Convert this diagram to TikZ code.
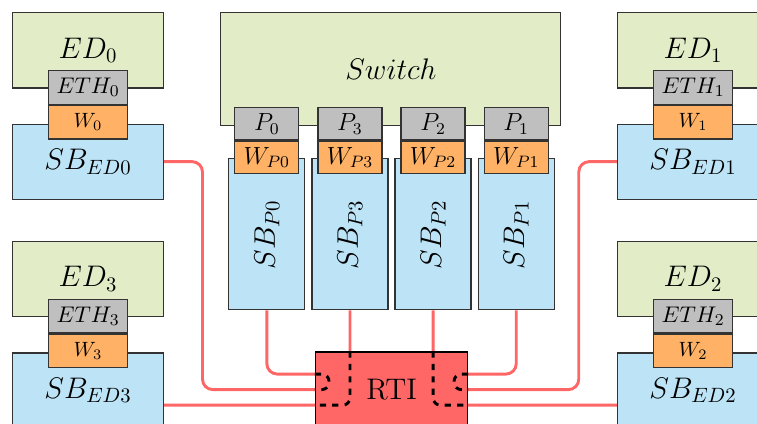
\documentclass[tikz,border=0pt]{standalone}
\usetikzlibrary{positioning, calc, backgrounds}
\definecolor{edGreen}{HTML}{E2EDC8}
\definecolor{sbBlue}{HTML}{BCE4F6}
\definecolor{portGrey}{HTML}{BFBFBF}
\definecolor{wrapOrange}{HTML}{FFB266}
\definecolor{rtiRed}{HTML}{FF6666}
\definecolor{boxBorder}{HTML}{333333}

\begin{document}
\begin{tikzpicture}[font=\Large, node distance=0.6cm,
    box/.style={draw=boxBorder, semithick, inner sep=0pt},
    edbox/.style={box, fill=edGreen, minimum width=2.567cm, minimum height=1.28cm},
    sbbox/.style={box, fill=sbBlue, minimum width=2.567cm, minimum height=1.275cm},
    ethbox/.style={box, fill=portGrey, minimum width=1.343cm, minimum height=0.57cm, font=\fontsize{11}{13}\selectfont},
    wbox/.style={box, fill=wrapOrange, minimum width=1.343cm, minimum height=0.57cm, font=\normalsize},
    portbox/.style={box, fill=portGrey, minimum width=1.088cm, minimum height=0.55cm, font=\large},
    wportbox/.style={box, fill=wrapOrange, minimum width=1.088cm, minimum height=0.55cm, font=\large},
    sbpbox/.style={box, fill=sbBlue, minimum width=1.292cm, minimum height=2.567cm},
    link/.style={draw=rtiRed, line width=1.4pt, rounded corners=5pt},
    tunnel/.style={draw=black, line width=1.4pt, dashed, rounded corners=3.5pt}]
    \useasboundingbox (0,0) rectangle (12.869,7.208);
    \clip (0,0) rectangle (12.869,7.208);

    % end devices, left column
    \node[edbox, anchor=north west] (ed0) at (0.204,7.004) {$ED_0$};
    \node[sbbox, below=0.595cm of ed0] (sb0) {$SB_{ED0}$};
    \node[wbox, above=-0.272cm of sb0] (w0) {$W_0$};
    \node[ethbox, above=0pt of w0] (eth0) {$ETH_0$};
    \node[edbox, below=0.697cm of sb0] (ed3) {$ED_3$};
    \node[sbbox, below=0.595cm of ed3] (sb3) {$SB_{ED3}$};
    \node[wbox, above=-0.272cm of sb3] (w3) {$W_3$};
    \node[ethbox, above=0pt of w3] (eth3) {$ETH_3$};

    % end devices, right column
    \node[edbox, anchor=north west] (ed1) at (10.489,7.004) {$ED_1$};
    \node[sbbox, below=0.595cm of ed1] (sb1) {$SB_{ED1}$};
    \node[wbox, above=-0.272cm of sb1] (w1) {$W_1$};
    \node[ethbox, above=0pt of w1] (eth1) {$ETH_1$};
    \node[edbox, below=0.697cm of sb1] (ed2) {$ED_2$};
    \node[sbbox, below=0.595cm of ed2] (sb2) {$SB_{ED2}$};
    \node[wbox, above=-0.272cm of sb2] (w2) {$W_2$};
    \node[ethbox, above=0pt of w2] (eth2) {$ETH_2$};

    % switch and its ports
    \node[box, fill=edGreen, minimum width=5.78cm, minimum height=1.921cm,
          right=0.952cm of ed0.north east, anchor=north west] (sw) {$Switch$};
    \node[sbpbox, below right=0.544cm and 0.136cm of sw.south west] (sbp0) {\rotatebox{90}{$SB_{P0}$}};
    \node[sbpbox, right=0.1cm of sbp0] (sbp3) {\rotatebox{90}{$SB_{P3}$}};
    \node[sbpbox, right=0.1cm of sbp3] (sbp2) {\rotatebox{90}{$SB_{P2}$}};
    \node[sbpbox, right=0.1cm of sbp2] (sbp1) {\rotatebox{90}{$SB_{P1}$}};
    \node[wportbox, above=-0.272cm of sbp0] (wp0) {$W_{P0}$};
    \node[portbox, above=0pt of wp0] (p0) {$P_0$};
    \node[wportbox, above=-0.272cm of sbp3] (wp3) {$W_{P3}$};
    \node[portbox, above=0pt of wp3] (p3) {$P_3$};
    \node[wportbox, above=-0.272cm of sbp2] (wp2) {$W_{P2}$};
    \node[portbox, above=0pt of wp2] (p2) {$P_2$};
    \node[wportbox, above=-0.272cm of sbp1] (wp1) {$W_{P1}$};
    \node[portbox, above=0pt of wp1] (p1) {$P_1$};

    % RTI
    \coordinate (rtiTop) at ($(sbp3.south)!0.5!(sbp2.south)$);
    \node[box, draw=black, fill=rtiRed, minimum width=2.584cm, minimum height=1.275cm,
          below=0.697cm of rtiTop] (rti) {RTI};
    \coordinate (lhi) at ($(rti.west)+(0,0.264)$);
    \coordinate (llo) at ($(rti.west)+(0,-0.264)$);
    \coordinate (rhi) at ($(rti.east)+(0,0.264)$);
    \coordinate (rlo) at ($(rti.east)+(0,-0.264)$);

    \begin{scope}[on background layer]
      \draw[link] (sb0.east) -- ++(0.65,0) |- (rti.west);
      \draw[link] (sbp0.south) |- (lhi);
      \draw[link] (sbp3.south) |- (sb3.east |- llo);
      \draw[link] (sbp2.south) |- (sb2.west |- rlo);
      \draw[link] (sbp1.south) |- (rhi);
      \draw[link] (sb1.west) -- ++(-0.65,0) |- (rti.east);
    \end{scope}

    % paths through the RTI
    \draw[tunnel] (lhi) -- ++(0.24,0) |- (rti.west);
    \draw[tunnel] (sbp3.south |- rti.north) |- (llo);
    \draw[tunnel] (rhi) -- ++(-0.24,0) |- (rti.east);
    \draw[tunnel] (sbp2.south |- rti.north) |- (rlo);
\end{tikzpicture}
\end{document}
